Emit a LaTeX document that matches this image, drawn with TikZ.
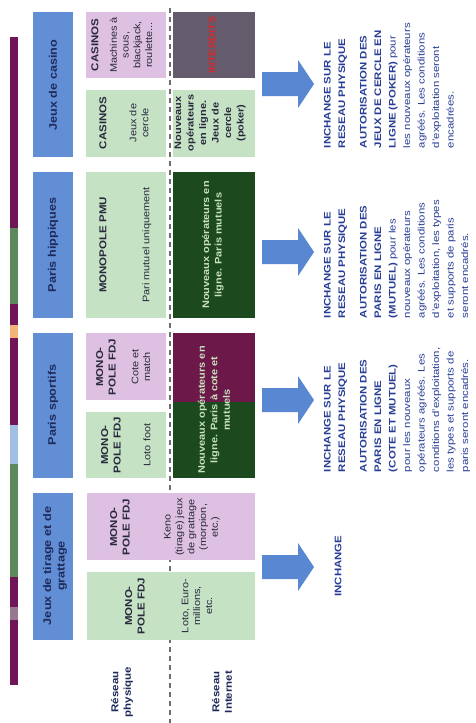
\documentclass[tikz,border=0pt]{standalone}
\usepackage{fontspec}
\setmainfont{Liberation Sans}
\definecolor{hdrblue}{RGB}{98,142,214}
\definecolor{navy}{RGB}{30,42,90}
\definecolor{lgreen}{RGB}{198,226,196}
\definecolor{lpink}{RGB}{222,192,226}
\definecolor{dgreen}{RGB}{28,74,30}
\definecolor{dpurple}{RGB}{108,24,72}
\definecolor{dgrey}{RGB}{100,92,108}
\definecolor{redtxt}{RGB}{215,40,45}
\definecolor{barpurple}{RGB}{112,22,88}
\definecolor{bargreen}{RGB}{92,138,92}
\definecolor{barorange}{RGB}{240,180,120}
\definecolor{barblue}{RGB}{160,190,230}
\definecolor{bargrey}{RGB}{150,120,145}
\definecolor{arrowblue}{RGB}{90,135,210}
\definecolor{rtblue}{RGB}{40,62,150}
\definecolor{celltxt}{RGB}{40,40,60}
\definecolor{lighttxt}{RGB}{200,225,190}
\definecolor{dashgrey}{RGB}{110,110,110}
\begin{document}
\begin{tikzpicture}[x=1pt,y=-1pt,
  vt/.style={rotate=90, transform shape, xscale=1.15, inner sep=0pt, outer sep=0pt, align=center},
  hdr/.style={vt, font=\fontsize{11}{13.5}\selectfont\bfseries, text=navy},
  ttl/.style={vt, font=\fontsize{10}{12.5}\selectfont\bfseries, text=celltxt},
  bdy/.style={vt, font=\fontsize{9.5}{11.8}\selectfont, text=celltxt},
  net/.style={vt, font=\fontsize{9.5}{12.5}\selectfont\bfseries, text=lighttxt},
  rt/.style={rotate=90, transform shape, xscale=1.2, inner sep=0pt, outer sep=0pt, align=left, anchor=north west, font=\fontsize{9.5}{14.5}\selectfont, text=rtblue},
  arr/.style={fill=arrowblue}
]
\useasboundingbox (0,0) rectangle (476,723);
\fill[white] (0,0) rectangle (476,723);

% left colour bar
\fill[barpurple] (10,37) rectangle (18,228);
\fill[bargreen] (10,228) rectangle (18,304);
\fill[barpurple] (10,304) rectangle (18,325);
\fill[barorange] (10,325) rectangle (18,338);
\fill[barpurple] (10,338) rectangle (18,425);
\fill[barblue] (10,425) rectangle (18,464);
\fill[bargreen] (10,464) rectangle (18,577);
\fill[barpurple] (10,577) rectangle (18,607);
\fill[bargrey] (10,607) rectangle (18,620);
\fill[barpurple] (10,620) rectangle (18,685);

% dashed separator
\coordinate (dtop) at (170,8);
\coordinate (dbot) at (170,723);
\draw[dashgrey, line width=1.4pt, dash pattern=on 5pt off 4pt] (dtop) -- (dbot);

% header column
\fill[hdrblue] (33,12) rectangle (73,157);
\fill[hdrblue] (33,172) rectangle (73,318);
\fill[hdrblue] (33,333) rectangle (73,478);
\fill[hdrblue] (33,493) rectangle (73,640);
\node[hdr] (h1) at (53,85) {Jeux de casino};
\node[hdr] (h2) at (53,245) {Paris hippiques};
\node[hdr] (h3) at (53,405) {Paris sportifs};
\node[hdr] (h4) at (55,566) {Jeux de tirage et de\\grattage};

% physical network cells
\fill[lpink] (86,12) rectangle (166,78);
\fill[lgreen] (86,90) rectangle (166,157);
\fill[lgreen] (86,172) rectangle (166,318);
\fill[lpink] (86,333) rectangle (166,400);
\fill[lgreen] (86,412) rectangle (166,478);
\fill[lpink] (87,493) rectangle (255,560);
\fill[lgreen] (87,572) rectangle (255,640);

% internet cells
\fill[dgrey] (173,12) rectangle (255,78);
\fill[lgreen] (173,90) rectangle (255,157);
\fill[dgreen] (173,172) rectangle (255,318);
\fill[dpurple] (173,333) rectangle (255,402);
\fill[dgreen] (173,402) rectangle (255,478);

% cell texts
\node[ttl] (c1t) at (95,45) {CASINOS};
\node[bdy] (c1b) at (131,45) {Machines à\\sous,\\blackjack,\\roulette...};
\node[ttl] (c2t) at (103,123) {CASINOS};
\node[bdy] (c2b) at (139,123) {Jeux de\\cercle};
\node[ttl] (p1t) at (103,245) {MONOPOLE PMU};
\node[bdy] (p1b) at (147,245) {Pari mutuel uniquement};
\node[ttl] (s1t) at (106,367) {MONO-\\POLE FDJ};
\node[bdy] (s1b) at (141,367) {Cote et\\match};
\node[ttl] (s2t) at (111,445) {MONO-\\POLE FDJ};
\node[bdy] (s2b) at (147,445) {Loto foot};
\node[ttl] (t1t) at (120,527) {MONO-\\POLE FDJ};
\node[bdy] (t1b) at (192,527) {Keno\\(tirage) jeux\\de grattage\\(morpion,\\etc.)};
\node[ttl] (t2t) at (135,606) {MONO-\\POLE FDJ};
\node[bdy] (t2b) at (197,606) {Loto, Euro-\\millions,\\etc.};

\node[vt, font=\fontsize{9.5}{12}\selectfont\bfseries, text=redtxt] (ci) at (212,45) {INTERDITS};
\node[net, text=celltxt] (cn) at (210,123) {Nouveaux\\opérateurs\\en ligne.\\Jeux de\\cercle\\(poker)};
\node[net] (pn) at (213,245) {Nouveaux opérateurs en\\ligne. Paris mutuels};
\node[net] (sn) at (214,410) {Nouveaux opérateurs en\\ligne. Paris à cote et\\mutuels};

% bottom labels
\node[ttl, text=navy] (lp) at (122,692) {Réseau\\physique};
\node[ttl, text=navy] (li) at (222,692) {Réseau\\Internet};

% arrows
\foreach \c in {84,252,400,567}{
  \fill[arr] (262,{\c-12}) -- (298,{\c-12}) -- (298,{\c-24}) -- (314,\c)
    -- (298,{\c+24}) -- (298,{\c+12}) -- (262,{\c+12}) -- cycle;
}

% right texts
\node[rt] (r1) at (324,148) {\textbf{INCHANGE SUR LE}\\\textbf{RESEAU PHYSIQUE}\\[7pt]
  \textbf{AUTORISATION DES}\\\textbf{JEUX DE CERCLE EN}\\\textbf{LIGNE (POKER)} pour\\les nouveaux opérateurs\\agréés. Les conditions\\d'exploitation seront\\encadrées.};
\node[rt] (r2) at (324,318) {\textbf{INCHANGE SUR LE}\\\textbf{RESEAU PHYSIQUE}\\[7pt]
  \textbf{AUTORISATION DES}\\\textbf{PARIS EN LIGNE}\\\textbf{(MUTUEL)} pour les\\nouveaux opérateurs\\agréés. Les conditions\\d'exploitation, les types\\et supports de paris\\seront encadrés.};
\node[rt] (r3) at (324,472) {\textbf{INCHANGE SUR LE}\\\textbf{RESEAU PHYSIQUE}\\[7pt]
  \textbf{AUTORISATION DES}\\\textbf{PARIS EN LIGNE}\\\textbf{(COTE ET MUTUEL)}\\pour les nouveaux\\opérateurs agréés. Les\\conditions d'exploitation,\\les types et supports de\\paris seront encadrés.};
\node[rt, anchor=center, font=\fontsize{9.5}{11.5}\selectfont\bfseries] (r4) at (338,566) {INCHANGE};
\end{tikzpicture}
\end{document}
